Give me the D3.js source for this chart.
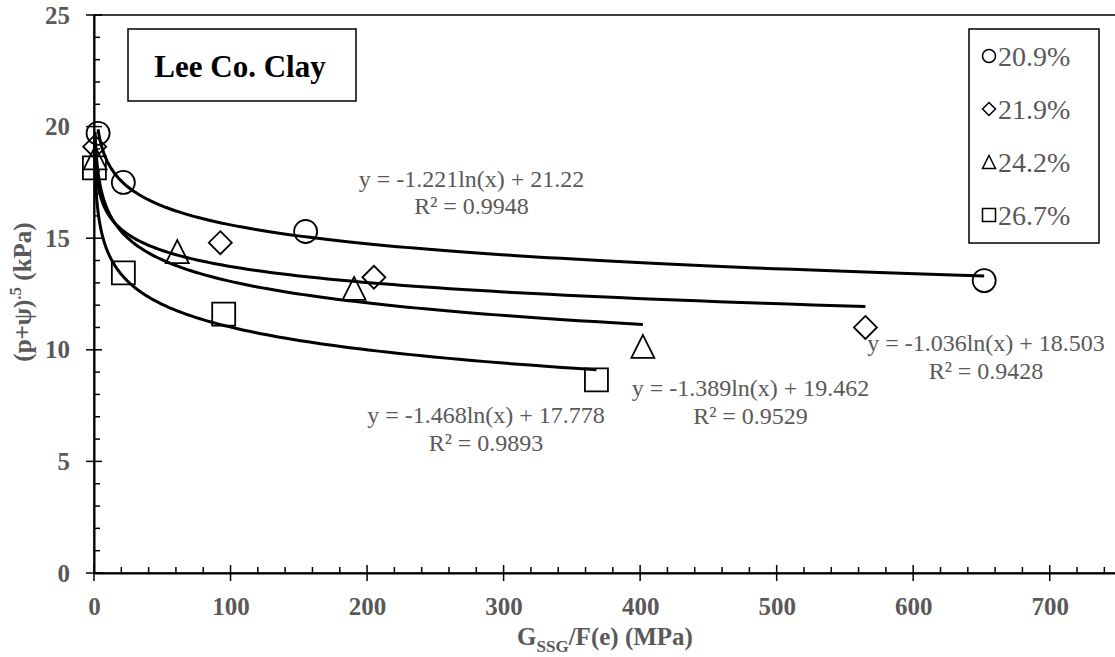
<!DOCTYPE html>
<html>
<head>
<meta charset="utf-8">
<script src="https://cdn.jsdelivr.net/npm/d3@7"></script>
<style>
  body { margin: 0; background: #fff; }
  text { font-family: "Liberation Serif", "Times New Roman", serif; }
</style>
</head>
<body>
<svg id="chart" width="1115" height="657"></svg>
<script>
// data
const seriesNames = ['20.9%', '21.9%', '24.2%', '26.7%'];
const seriesShapes = ['circle', 'diamond', 'triangle', 'square'];
const x209 = [3, 21.5, 155, 652];
const y209 = [19.7, 17.5, 15.3, 13.1];
const x219 = [0.5, 92.5, 205, 565];
const y219 = [19.1, 14.8, 13.25, 11.0];
const x242 = [0.8, 61, 190.5, 402];
const y242 = [18.6, 14.4, 12.75, 10.15];
const x267 = [0.3, 21.5, 95, 368];
const y267 = [18.15, 13.45, 11.6, 8.65];
// log trendlines y = a ln(x) + b
const trendA = [-1.221, -1.036, -1.389, -1.468];
const trendB = [21.22, 18.503, 19.462, 17.778];
const trendEq = ['y = -1.221ln(x) + 21.22', 'y = -1.036ln(x) + 18.503',
                 'y = -1.389ln(x) + 19.462', 'y = -1.468ln(x) + 17.778'];
const trendR2 = ['R² = 0.9948', 'R² = 0.9428', 'R² = 0.9529', 'R² = 0.9893'];
const xTicks = [0, 100, 200, 300, 400, 500, 600, 700];
const yTicks = [0, 5, 10, 15, 20, 25];

const svg = d3.select('#chart');
const gray = '#595959';

const render = () => {
    const margin = {top: 15, left: 94, bottom: 84};
    const height = +svg.attr('height');
    const xScale = d3.scaleLinear().domain([0, 750]).range([margin.left, margin.left + 1024]);
    const yScale = d3.scaleLinear().domain([0, 25]).range([height - margin.bottom, margin.top]);

    const series = [
        {xs: x209, ys: y209}, {xs: x219, ys: y219},
        {xs: x242, ys: y242}, {xs: x267, ys: y267}
    ].map((s, i) => ({
        name: seriesNames[i], shape: seriesShapes[i],
        points: s.xs.map((x, j) => ({x, y: s.ys[j]})),
        a: trendA[i], b: trendB[i]
    }));

    // plot frame (top line, right edge falls off the image)
    svg.append('rect')
        .attr('x', xScale(0)).attr('y', yScale(25))
        .attr('width', xScale(750) - xScale(0))
        .attr('height', yScale(0) - yScale(25))
        .attr('fill', 'none').attr('stroke', '#000').attr('stroke-width', 1.5);

    // axes
    const xAxis = d3.axisBottom(xScale).tickValues(xTicks).tickSize(0).tickPadding(24);
    const yAxis = d3.axisLeft(yScale).tickValues(yTicks).tickSize(0).tickPadding(24);

    const xAxisG = svg.append('g')
        .attr('transform', `translate(0, ${yScale(0)})`)
        .call(xAxis);
    const yAxisG = svg.append('g')
        .attr('transform', `translate(${xScale(0)}, 0)`)
        .call(yAxis);

    [xAxisG, yAxisG].forEach(g => {
        g.select('.domain').attr('stroke', '#000').attr('stroke-width', 2);
        g.selectAll('text')
            .attr('fill', gray)
            .attr('font-size', 25)
            .attr('font-weight', 'bold')
            .attr('font-family', '"Liberation Serif", "Times New Roman", serif');
    });

    // major ticks cross the axis, minor ticks point inward
    const xMinor = d3.range(0, 751, 20);
    const yMinor = d3.range(0, 26, 1);
    svg.append('g').selectAll('line')
        .data(xMinor)
        .join('line')
        .attr('x1', d => xScale(d)).attr('x2', d => xScale(d))
        .attr('y1', d => yScale(0) + (d % 100 === 0 ? 8 : 0))
        .attr('y2', d => yScale(0) - (d % 100 === 0 ? 8 : 6))
        .attr('stroke', '#000').attr('stroke-width', 1.5);
    svg.append('g').selectAll('line')
        .data(yMinor)
        .join('line')
        .attr('y1', d => yScale(d)).attr('y2', d => yScale(d))
        .attr('x1', d => xScale(0) - (d % 5 === 0 ? 8 : 0))
        .attr('x2', d => xScale(0) + (d % 5 === 0 ? 8 : 6))
        .attr('stroke', '#000').attr('stroke-width', 1.5);

    // axis titles
    const xTitle = svg.append('text')
        .attr('x', 605).attr('y', 645)
        .attr('text-anchor', 'middle')
        .attr('fill', gray).attr('font-size', 25).attr('font-weight', 'bold');
    xTitle.append('tspan').text('G');
    xTitle.append('tspan').attr('font-size', 17).attr('dy', 7).text('SSG');
    xTitle.append('tspan').attr('dy', -7).text('/F(e) (MPa)');

    const yTitle = svg.append('text')
        .attr('transform', 'translate(31, 292) rotate(-90)')
        .attr('text-anchor', 'middle')
        .attr('fill', gray).attr('font-size', 25).attr('font-weight', 'bold');
    yTitle.append('tspan').text('(p+ψ)');
    yTitle.append('tspan').attr('font-size', 17).attr('dy', -10).text('.5');
    yTitle.append('tspan').attr('dy', 10).text(' (kPa)');

    // trendlines
    const lineGenerator = d3.line()
        .x(d => xScale(d.x))
        .y(d => yScale(d.y));
    series.forEach(s => {
        const [x0, x1] = d3.extent(s.points, d => d.x);
        const samples = d3.range(0, 201).map(i => {
            const x = Math.exp(Math.log(x0) + (Math.log(x1) - Math.log(x0)) * i / 200);
            return {x, y: s.a * Math.log(x) + s.b};
        });
        svg.append('path')
            .attr('d', lineGenerator(samples))
            .attr('fill', 'none')
            .attr('stroke', '#000')
            .attr('stroke-width', 3);
    });

    // marker shapes
    const shapePath = (shape, r) => {
        const p = d3.path();
        if (shape === 'circle') { p.arc(0, 0, r, 0, 2 * Math.PI); }
        if (shape === 'square') { p.rect(-r, -r, 2 * r, 2 * r); }
        if (shape === 'diamond') { p.moveTo(0, -r); p.lineTo(r, 0); p.lineTo(0, r); p.lineTo(-r, 0); p.closePath(); }
        if (shape === 'triangle') { p.moveTo(0, -r); p.lineTo(r, r); p.lineTo(-r, r); p.closePath(); }
        return p.toString();
    };

    series.forEach(s => {
        svg.append('g').selectAll('path')
            .data(s.points)
            .join('path')
            .attr('transform', d => `translate(${xScale(d.x)}, ${yScale(d.y)})`)
            .attr('d', shapePath(s.shape, 11.5))
            .attr('fill', 'none')
            .attr('stroke', '#000')
            .attr('stroke-width', 1.8);
    });

    // equation labels
    const eqPos = [[471.5, 186.5], [986, 351], [750.5, 396], [486, 423]];
    eqPos.forEach((p, i) => {
        const t = svg.append('text')
            .attr('text-anchor', 'middle')
            .attr('fill', gray)
            .attr('font-size', 24);
        t.append('tspan').attr('x', p[0]).attr('y', p[1]).text(trendEq[i]);
        t.append('tspan').attr('x', p[0]).attr('y', p[1] + 27.5).text(trendR2[i]);
    });

    // title box
    svg.append('rect')
        .attr('x', 128).attr('y', 29).attr('width', 228).attr('height', 72)
        .attr('fill', '#fff').attr('stroke', '#000').attr('stroke-width', 1.5);
    svg.append('text')
        .attr('x', 240).attr('y', 77)
        .attr('text-anchor', 'middle')
        .attr('font-size', 31).attr('font-weight', 'bold')
        .attr('fill', '#000')
        .text('Lee Co. Clay');

    // legend
    const legend = svg.append('g').attr('transform', 'translate(969, 29)');
    legend.append('rect')
        .attr('width', 130).attr('height', 214)
        .attr('fill', '#fff').attr('stroke', '#000').attr('stroke-width', 1.5);
    const item = legend.selectAll('g.item')
        .data(series)
        .join('g')
        .attr('class', 'item')
        .attr('transform', (d, i) => `translate(0, ${27 + i * 53})`);
    item.append('path')
        .attr('transform', 'translate(20, 0)')
        .attr('d', d => shapePath(d.shape, 6.5))
        .attr('fill', 'none').attr('stroke', '#000').attr('stroke-width', 1.5);
    item.append('text')
        .attr('x', 29).attr('y', 10)
        .attr('fill', gray).attr('font-size', 28)
        .text(d => d.name);
};

render();
</script>
</body>
</html>
